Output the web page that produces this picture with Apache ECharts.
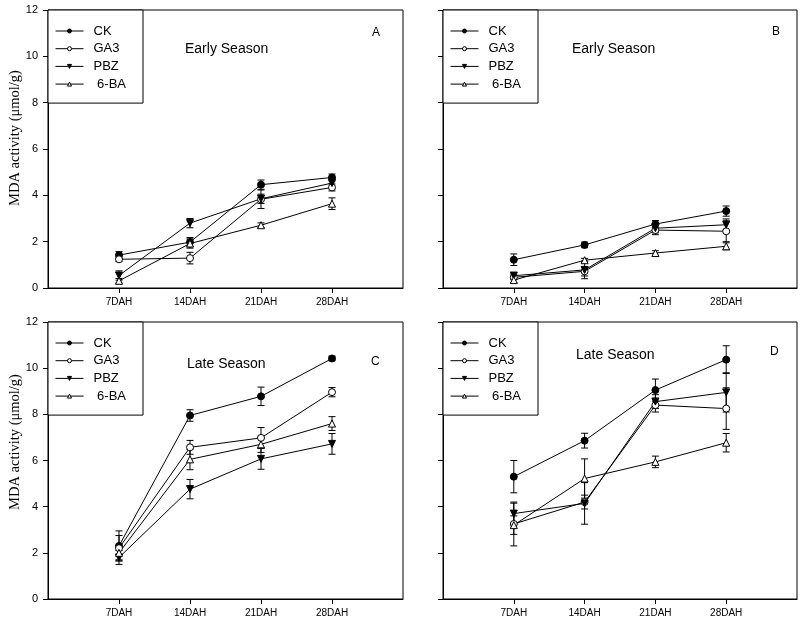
<!DOCTYPE html>
<html>
<head>
<meta charset="utf-8">
<script src="https://cdn.jsdelivr.net/npm/echarts@6/dist/echarts.min.js"></script>
<style>
html,body{margin:0;padding:0;background:#fff;}
#chart{width:800px;height:627px;}
</style>
</head>
<body>
<div id="chart"></div>
<script>
// ---- data ----
const days = [7, 14, 21, 28];
const dayLabels = ['7DAH', '14DAH', '21DAH', '28DAH'];
const treatments = ['CK', 'GA3', 'PBZ', '6-BA'];
const yTicks = [0, 2, 4, 6, 8, 10, 12];
const panelLetters = ['A', 'B', 'C', 'D'];
const panelSeasons = ['Early Season', 'Early Season', 'Late Season', 'Late Season'];

// Panel A (early season)
const A_CK = [1.42, 1.98, 4.46, 4.77];
const A_GA3 = [1.24, 1.29, 3.83, 4.34];
const A_PBZ = [0.54, 2.80, 3.85, 4.53];
const A_6BA = [0.31, 1.92, 2.71, 3.64];
const A_CK_err = [0.15, 0.20, 0.20, 0.15];
const A_GA3_err = [0.10, 0.25, 0.40, 0.15];
const A_PBZ_err = [0.20, 0.20, 0.20, 0.20];
const A_6BA_err = [0.10, 0.20, 0.10, 0.25];

// Panel B (early season)
const B_CK = [1.22, 1.86, 2.76, 3.32];
const B_GA3 = [0.46, 0.72, 2.50, 2.45];
const B_PBZ = [0.53, 0.78, 2.58, 2.73];
const B_6BA = [0.34, 1.20, 1.51, 1.80];
const B_CK_err = [0.25, 0.12, 0.15, 0.22];
const B_GA3_err = [0.10, 0.20, 0.20, 0.45];
const B_PBZ_err = [0.15, 0.38, 0.20, 0.25];
const B_6BA_err = [0.10, 0.08, 0.10, 0.15];

// Panel C (late season)
const C_CK = [2.30, 7.95, 8.78, 10.42];
const C_GA3 = [2.20, 6.57, 6.98, 8.96];
const C_PBZ = [1.80, 4.76, 6.07, 6.72];
const C_6BA = [2.00, 6.05, 6.70, 7.60];
const C_CK_err = [0.65, 0.25, 0.40, 0.10];
const C_GA3_err = [0.55, 0.30, 0.45, 0.20];
const C_PBZ_err = [0.30, 0.42, 0.45, 0.45];
const C_6BA_err = [0.30, 0.45, 0.35, 0.30];

// Panel D (late season)
const D_CK = [5.30, 6.86, 9.05, 10.37];
const D_GA3 = [3.25, 4.20, 8.40, 8.25];
const D_PBZ = [3.70, 4.14, 8.55, 8.95];
const D_6BA = [3.20, 5.22, 5.94, 6.77];
const D_CK_err = [0.70, 0.32, 0.48, 0.60];
const D_GA3_err = [0.95, 0.30, 0.30, 0.90];
const D_PBZ_err = [0.45, 0.90, 0.30, 0.85];
const D_6BA_err = [0.40, 0.85, 0.25, 0.40];

const panelValues = [
  [A_CK, A_GA3, A_PBZ, A_6BA],
  [B_CK, B_GA3, B_PBZ, B_6BA],
  [C_CK, C_GA3, C_PBZ, C_6BA],
  [D_CK, D_GA3, D_PBZ, D_6BA]
];
const panelErrors = [
  [A_CK_err, A_GA3_err, A_PBZ_err, A_6BA_err],
  [B_CK_err, B_GA3_err, B_PBZ_err, B_6BA_err],
  [C_CK_err, C_GA3_err, C_PBZ_err, C_6BA_err],
  [D_CK_err, D_GA3_err, D_PBZ_err, D_6BA_err]
];

// ---- styles ----
const FONT = 'Liberation Sans, Arial, sans-serif';
const SERIF = 'Liberation Serif, Times New Roman, serif';
const symbolStyles = [
  { symbol: 'circle', rotate: 0, fill: '#000' },
  { symbol: 'circle', rotate: 0, fill: '#fff' },
  { symbol: 'triangle', rotate: 180, fill: '#000' },
  { symbol: 'triangle', rotate: 0, fill: '#fff' }
];
const grids = [
  { left: 48, top: 10, width: 355, height: 278 },
  { left: 443, top: 10, width: 354, height: 278 },
  { left: 48, top: 322, width: 355, height: 277 },
  { left: 443, top: 322, width: 354, height: 277 }
];
const seasonPos = [
  { x: 185, y: 50 }, { x: 572, y: 50 }, { x: 187, y: 365 }, { x: 576, y: 356 }
];
const letterPos = [
  { x: 376, y: 34 }, { x: 776, y: 33 }, { x: 375, y: 363 }, { x: 774, y: 353 }
];

function errRender(params, api) {
  const x = api.value(0), y = api.value(1), e = api.value(2);
  const t = api.coord([x, y + e]);
  const b = api.coord([x, y - e]);
  const hw = 3.5;
  const st = { stroke: '#000', lineWidth: 1 };
  return {
    type: 'group',
    children: [
      { type: 'line', shape: { x1: t[0], y1: t[1], x2: b[0], y2: b[1] }, style: st },
      { type: 'line', shape: { x1: t[0] - hw, y1: t[1], x2: t[0] + hw, y2: t[1] }, style: st },
      { type: 'line', shape: { x1: b[0] - hw, y1: b[1], x2: b[0] + hw, y2: b[1] }, style: st }
    ]
  };
}

const option = {
  animation: false,
  backgroundColor: '#fff',
  grid: [], xAxis: [], yAxis: [], series: [], legend: [], graphic: []
};

for (let p = 0; p < 4; p++) {
  option.grid.push(Object.assign({
    show: true, borderColor: '#000', borderWidth: 1, backgroundColor: 'transparent',
    containLabel: false, outerBoundsMode: 'none'
  }, grids[p]));
  option.xAxis.push({
    gridIndex: p, type: 'value', min: 0, max: 35, interval: 7,
    axisLine: { show: true, lineStyle: { color: '#000', width: 1 } },
    axisTick: { show: true, inside: false, length: 5, customValues: days, lineStyle: { color: '#000' } },
    axisLabel: {
      show: true, customValues: days, margin: 9, color: '#000', fontSize: 10, fontFamily: FONT,
      formatter: v => { const i = days.indexOf(v); return i >= 0 ? dayLabels[i] : ''; }
    },
    splitLine: { show: false }
  });
  option.yAxis.push({
    gridIndex: p, type: 'value', min: yTicks[0], max: yTicks[yTicks.length - 1], interval: 2,
    axisLine: { show: true, lineStyle: { color: '#000', width: 1 } },
    axisTick: { show: true, inside: false, length: 5, lineStyle: { color: '#000' } },
    axisLabel: { show: p % 2 === 0, margin: 10, color: '#000', fontSize: 11, fontFamily: FONT },
    splitLine: { show: false }
  });
  for (let s = 0; s < 4; s++) {
    const vals = panelValues[p][s], errs = panelErrors[p][s];
    option.series.push({
      type: 'custom', name: treatments[s] + ' err', xAxisIndex: p, yAxisIndex: p, z: 1,
      renderItem: errRender, encode: { x: 0, y: 1 },
      data: days.map((d, k) => [d, vals[k], errs[k]]), silent: true
    });
  }
  for (let s = 0; s < 4; s++) {
    const vals = panelValues[p][s];
    const ss = symbolStyles[s];
    option.series.push({
      type: 'line', name: treatments[s], xAxisIndex: p, yAxisIndex: p, z: 3,
      data: days.map((d, k) => [d, vals[k]]),
      symbol: ss.symbol, symbolRotate: ss.rotate, symbolSize: 7, showAllSymbol: true,
      lineStyle: { color: '#000', width: 1 },
      itemStyle: { color: ss.fill, borderColor: '#000', borderWidth: 1 }
    });
  }
  option.legend.push({
    data: treatments, orient: 'vertical', left: grids[p].left, top: grids[p].top,
    borderColor: '#000', borderWidth: 1, backgroundColor: '#fff',
    padding: [14, 17, 12, 7], itemWidth: 28, itemHeight: 5, itemGap: 3.7,
    selectedMode: false,
    lineStyle: { width: 1, color: '#000' },
    itemStyle: { borderWidth: 1, borderColor: '#000' },
    textStyle: { color: '#000', fontSize: 13, fontFamily: FONT, lineHeight: 14, padding: [0, 0, 0, 5] },
    formatter: n => (n === '6-BA' ? ' ' + n : n)
  });
  option.graphic.push({
    type: 'text', left: seasonPos[p].x, top: seasonPos[p].y - 8,
    style: { text: panelSeasons[p], fill: '#000', font: '14px ' + FONT }
  });
  option.graphic.push({
    type: 'text', left: letterPos[p].x - 4, top: letterPos[p].y - 7,
    style: { text: panelLetters[p], fill: '#000', font: '12px ' + FONT }
  });
}
// y-axis titles (left panels)
option.graphic.push({
  type: 'text', x: 15, y: 138, rotation: Math.PI / 2,
  style: { text: 'MDA activity (μmol/g)', fill: '#000', font: '14.5px ' + SERIF, align: 'center', verticalAlign: 'middle' }
});
option.graphic.push({
  type: 'text', x: 15, y: 442, rotation: Math.PI / 2,
  style: { text: 'MDA activity (μmol/g)', fill: '#000', font: '14.5px ' + SERIF, align: 'center', verticalAlign: 'middle' }
});

const chart = echarts.init(document.getElementById('chart'), null, { renderer: 'canvas' });
chart.setOption(option);
</script>
</body>
</html>
